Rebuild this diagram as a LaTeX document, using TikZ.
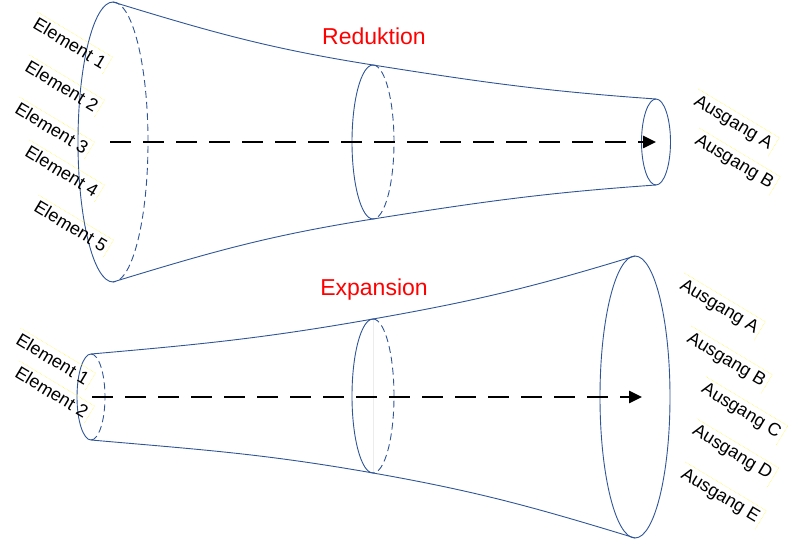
\documentclass[tikz,border=0pt]{standalone}
\usepackage{fontspec}
\setmainfont{Liberation Sans}
\usetikzlibrary{arrows.meta}
\definecolor{trichter}{RGB}{47,85,151}

\begin{document}
\begin{tikzpicture}[x=1pt,y=1pt,
  rand/.style={trichter, line width=0.9pt},
  hinten/.style={rand, dash pattern=on 7pt off 4pt},
  achse/.style={line width=2.5pt, dash pattern=on 21pt off 12pt, -{Triangle[length=13pt,width=12pt]}},
  etikett/.style={rotate=-31, font=\fontsize{18}{20}\selectfont, inner sep=3pt},
  rahmen/.style={yellow!85!white, densely dotted, line width=0.5pt},
  titel/.style={red, font=\fontsize{23}{26}\selectfont}]
  \useasboundingbox (0,0) rectangle (796,-540);

  % Reduktion
  \coordinate (a1o) at (113,-2);   \coordinate (a1u) at (113,-282);
  \coordinate (a2o) at (373,-65);  \coordinate (a2u) at (373,-219);
  \coordinate (a3o) at (656,-99);  \coordinate (a3u) at (656,-185);
  \coordinate (a3) at (656,-142);  \coordinate (astart) at (110,-142);

  \draw[rand] (a1o) arc[start angle=90, end angle=270, x radius=35, y radius=140];
  \draw[hinten] (a1o) arc[start angle=90, end angle=-90, x radius=35, y radius=140];
  \draw[rand] (a2o) arc[start angle=90, end angle=270, x radius=21, y radius=77];
  \draw[hinten] (a2o) arc[start angle=90, end angle=-90, x radius=21, y radius=77];
  \draw[rand] (a3) ellipse[x radius=14.5, y radius=43];

  \draw[rand] (a1o) to[out=-17,in=171] (a2o) to[out=-9,in=176] (a3o);
  \draw[rand] (a1u) to[out=17,in=-171] (a2u) to[out=9,in=-176] (a3u);
  \draw[achse] (astart) -- (a3);

  % Expansion
  \coordinate (b1o) at (91,-354);  \coordinate (b1u) at (91,-440);
  \coordinate (b2o) at (373,-319); \coordinate (b2u) at (373,-473);
  \coordinate (b3o) at (635,-256); \coordinate (b3u) at (635,-538);
  \coordinate (b3) at (635,-397);  \coordinate (bstart) at (92,-397);
  \coordinate (bende) at (642,-397);

  \draw[rand] (b1o) arc[start angle=90, end angle=270, x radius=14, y radius=43];
  \draw[hinten] (b1o) arc[start angle=90, end angle=-90, x radius=14, y radius=43];
  \draw[gray!15, line width=0.5pt] (b2o) -- (b2u);
  \draw[rand] (b2o) arc[start angle=90, end angle=270, x radius=21, y radius=77];
  \draw[hinten] (b2o) arc[start angle=90, end angle=-90, x radius=21, y radius=77];
  \draw[rand] (b3) ellipse[x radius=35, y radius=141];

  \draw[rand] (b1o) to[out=5,in=-170] (b2o) to[out=10,in=-163] (b3o);
  \draw[rand] (b1u) to[out=-5,in=170] (b2u) to[out=-10,in=163] (b3u);
  \draw[achse] (bstart) -- (bende);

  % Beschriftung
  \node[titel] (red) at (374,-36) {Reduktion};
  \node[titel] (exp) at (374,-290) {Expansion};

  \node[etikett] (ae1) at (70,-43) {Element 1};
  \node[etikett] (ae2) at (62,-86) {Element 2};
  \node[etikett] (ae3) at (52,-128) {Element 3};
  \node[etikett] (ae4) at (62,-171) {Element 4};
  \node[etikett] (ae5) at (71,-226) {Element 5};
  \node[etikett] (aaa) at (733,-123) {Ausgang A};
  \node[etikett] (aab) at (734,-162) {Ausgang B};

  \node[etikett] (be1) at (53,-359) {Element 1};
  \node[etikett] (be2) at (52,-392) {Element 2};
  \node[etikett] (baa) at (719,-307) {Ausgang A};
  \node[etikett] (bab) at (726,-360) {Ausgang B};
  \node[etikett] (bac) at (741,-411) {Ausgang C};
  \node[etikett] (bad) at (732,-453) {Ausgang D};
  \node[etikett] (bae) at (720,-496) {Ausgang E};

  \foreach \n in {ae1,ae2,ae3,ae4,ae5,aaa,aab,be1,be2,baa,bab,bac,bad,bae}
    \draw[rahmen] (\n.north west) -- (\n.north east) -- (\n.south east);
\end{tikzpicture}
\end{document}
